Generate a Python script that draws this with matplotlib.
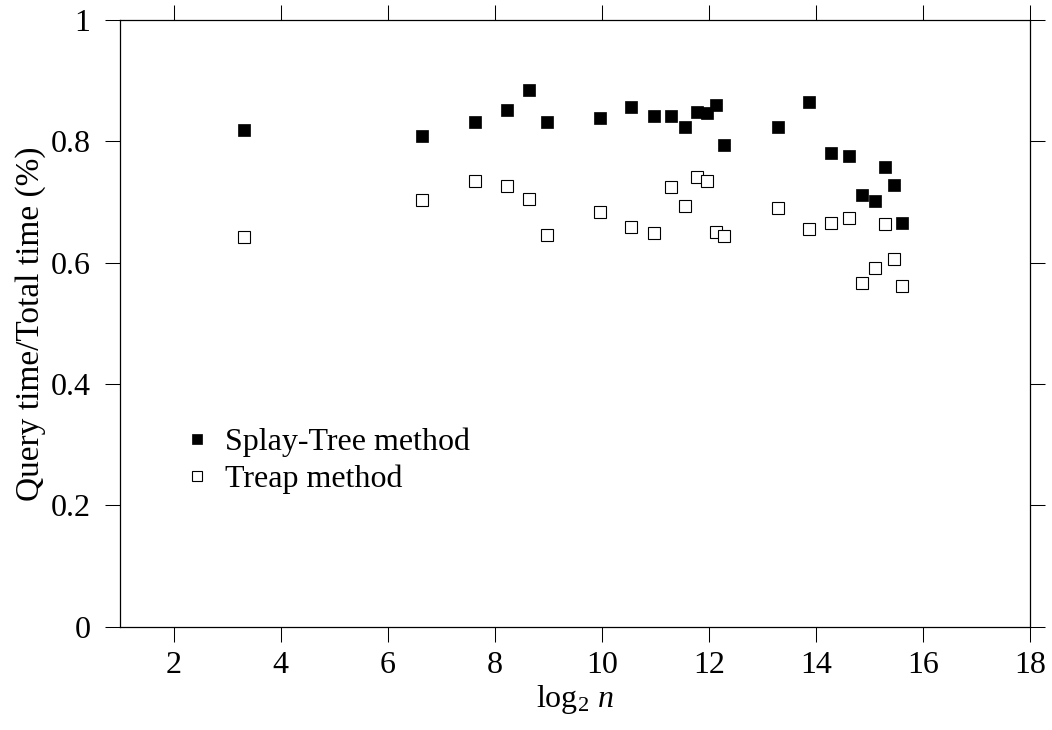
import matplotlib
matplotlib.use("Agg")
import matplotlib.pyplot as plt

plt.rcParams['font.family'] = ['Liberation Serif', 'DejaVu Serif']
plt.rcParams['mathtext.fontset'] = 'custom'
plt.rcParams['mathtext.rm'] = 'Liberation Serif'
plt.rcParams['mathtext.it'] = 'Liberation Serif:italic'

# log2 n values
log2_n = [3.32, 6.64, 7.64, 8.23, 8.64, 8.97, 9.97, 10.55, 10.97, 11.29, 11.55, 11.77,
          11.97, 12.14, 12.29, 13.29, 13.87, 14.29, 14.61, 14.87, 15.10, 15.29, 15.46, 15.61]
splay = [0.818, 0.809, 0.832, 0.852, 0.884, 0.832, 0.839, 0.857, 0.842, 0.842, 0.824, 0.848,
         0.847, 0.860, 0.794, 0.824, 0.865, 0.781, 0.776, 0.712, 0.702, 0.758, 0.728, 0.665]
treap = [0.642, 0.703, 0.734, 0.726, 0.705, 0.645, 0.684, 0.658, 0.649, 0.725, 0.693, 0.741,
         0.734, 0.651, 0.644, 0.690, 0.656, 0.666, 0.673, 0.567, 0.592, 0.663, 0.606, 0.562]

xticks = [2, 4, 6, 8, 10, 12, 14, 16, 18]
yticks = [0, 0.2, 0.4, 0.6, 0.8, 1]
ytick_labels = ['0', '0.2', '0.4', '0.6', '0.8', '1']

FS = 23

fig = plt.figure(figsize=(10.52, 7.30), dpi=100)
ax = fig.add_axes([120/1052, 1-626.7/730, 910/1052, 606.7/730])

ax.plot(log2_n, splay, linestyle='none', marker='s', markersize=8.6,
        markerfacecolor='black', markeredgecolor='black', markeredgewidth=0.5,
        label='Splay-Tree method')
ax.plot(log2_n, treap, linestyle='none', marker='s', markersize=8.6,
        markerfacecolor='white', markeredgecolor='black', markeredgewidth=0.8,
        label='Treap method')

ax.set_xlim(1, 18)
ax.set_ylim(0, 1)
ax.set_xticks(xticks)
ax.set_yticks(yticks)
ax.set_yticklabels(ytick_labels)
ax.tick_params(direction='out', length=10.8, width=0.75, labelsize=FS,
               top=True, right=True)
ax.tick_params(axis='x', pad=7)
ax.tick_params(axis='y', pad=10.5)
for s in ax.spines.values():
    s.set_linewidth(0.9)

ax.set_xlabel(r'log$_2$ $n$', fontsize=FS, labelpad=2)
ax.set_ylabel('Query time/Total time (%)', fontsize=FS + 1, labelpad=3)

leg = ax.legend(loc='upper left', bbox_to_anchor=(0.055, 0.355), frameon=False,
                fontsize=FS, handlelength=0.7, handletextpad=0.53, borderpad=0,
                labelspacing=0.25, markerscale=0.8)

fig.savefig('out.png', dpi=100)
